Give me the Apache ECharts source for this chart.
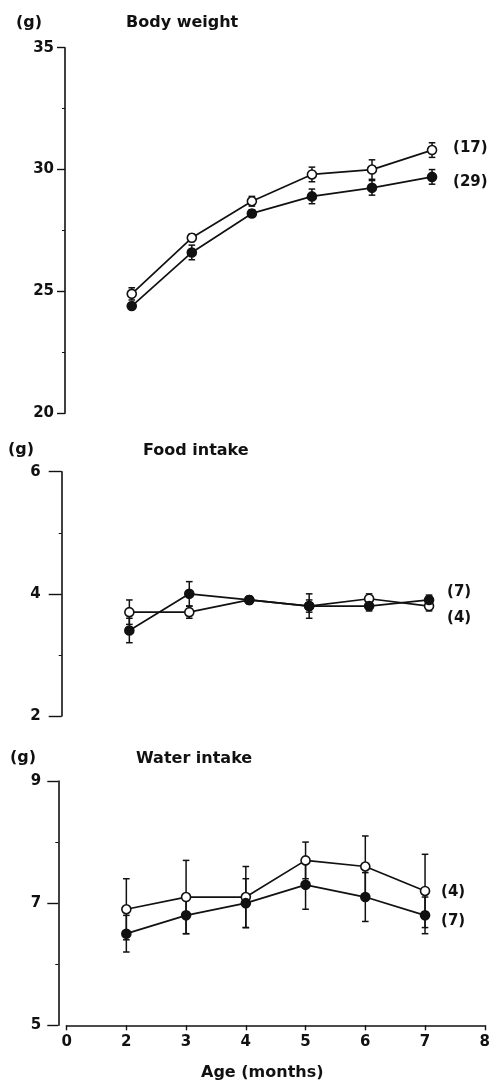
<!DOCTYPE html>
<html>
<head>
<meta charset="utf-8">
<script src="https://cdn.jsdelivr.net/npm/echarts@6/dist/echarts.min.js"></script>
<style>
  html, body { margin: 0; padding: 0; background: #fff; }
  #chart { width: 493px; height: 1083px; }
</style>
</head>
<body>
<div id="chart"></div>
<script>
// Age in months for every measurement
const months = [2, 3, 4, 5, 6, 7];
// Tick labels along the age axis (the first position is shown as 0, axis break)
const ageTickLabels = ['0', '2', '3', '4', '5', '6', '7', '8'];

// Body weight (g), mean and SEM
const weightOpen = [24.9, 27.2, 28.7, 29.8, 30.0, 30.8];
const weightOpenSem = [0.25, 0.15, 0.2, 0.3, 0.4, 0.3];
const weightFilled = [24.4, 26.6, 28.2, 28.9, 29.25, 29.7];
const weightFilledSem = [0.1, 0.3, 0.15, 0.3, 0.3, 0.3];

// Food intake (g)
const foodOpen = [3.7, 3.7, 3.9, 3.8, 3.92, 3.8];
const foodOpenSem = [0.2, 0.1, 0.05, 0.1, 0.08, 0.08];
const foodFilled = [3.4, 4.0, 3.9, 3.8, 3.8, 3.9];
const foodFilledSem = [0.2, 0.2, 0.06, 0.2, 0.08, 0.08];

// Water intake (g)
const waterOpen = [6.9, 7.1, 7.1, 7.7, 7.6, 7.2];
const waterOpenSem = [0.5, 0.6, 0.5, 0.3, 0.5, 0.6];
const waterFilled = [6.5, 6.8, 7.0, 7.3, 7.1, 6.8];
const waterFilledSem = [0.3, 0.3, 0.4, 0.4, 0.4, 0.3];

// Group sizes shown at the line ends
const weightN = ['(17)', '(29)'];
const foodN = ['(4)', '(7)'];
const waterN = ['(4)', '(7)'];

const FONT = 'DejaVu Sans';
const INK = '#111';

const chart = echarts.init(document.getElementById('chart'), null, { renderer: 'canvas' });

function pairs(vals) {
  return months.map((m, i) => [m, vals[i]]);
}
function errData(vals, sem) {
  return months.map((m, i) => [m, vals[i], sem[i]]);
}

function errorBars(idx, vals, sem) {
  return {
    type: 'custom',
    xAxisIndex: idx,
    yAxisIndex: idx,
    z: 2,
    silent: true,
    data: errData(vals, sem),
    renderItem: function (params, api) {
      const x = api.value(0), v = api.value(1), e = api.value(2);
      const hi = api.coord([x, v + e]);
      const lo = api.coord([x, v - e]);
      const cap = 3.3;
      const style = { stroke: INK, lineWidth: 1.5 };
      return {
        type: 'group',
        children: [
          { type: 'line', shape: { x1: hi[0], y1: hi[1], x2: lo[0], y2: lo[1] }, style: style },
          { type: 'line', shape: { x1: hi[0] - cap, y1: hi[1], x2: hi[0] + cap, y2: hi[1] }, style: style },
          { type: 'line', shape: { x1: lo[0] - cap, y1: lo[1], x2: lo[0] + cap, y2: lo[1] }, style: style }
        ]
      };
    }
  };
}

function lineSeries(idx, vals, filled, label, offset) {
  return {
    type: 'line',
    xAxisIndex: idx,
    yAxisIndex: idx,
    z: filled ? 4 : 3,
    data: pairs(vals),
    symbol: 'circle',
    symbolSize: 9,
    showAllSymbol: true,
    lineStyle: { color: INK, width: 1.7 },
    itemStyle: {
      color: filled ? INK : '#fff',
      borderColor: INK,
      borderWidth: 1.6
    },
    endLabel: {
      show: true,
      formatter: label,
      offset: offset,
      distance: 5,
      fontFamily: FONT,
      fontWeight: 'bold',
      fontSize: 15,
      color: INK
    },
    emphasis: { disabled: true }
  };
}

const grids = [
  { left: 71.7, top: 47.7, width: 420.4, height: 365.6 },
  { left: 69.4, top: 471.7, width: 419.6, height: 244.3 },
  { left: 66.6, top: 781, width: 420.4, height: 244.3 }
];

function yAxis(idx, min, max, interval, offset, tickLen, margin) {
  return {
    type: 'value',
    gridIndex: idx,
    min: min,
    max: max,
    interval: interval,
    offset: offset,
    axisLine: { show: true, lineStyle: { color: INK, width: 1.6 } },
    axisTick: { show: true, length: tickLen, lineStyle: { color: INK, width: 1.4 } },
    minorTick: { show: true, splitNumber: 2, length: 3, lineStyle: { color: INK, width: 1 } },
    splitLine: { show: false },
    axisLabel: {
      margin: margin,
      fontFamily: FONT,
      fontWeight: 'bold',
      fontSize: 15,
      color: INK
    }
  };
}

function xAxis(idx, visible) {
  return {
    type: 'value',
    gridIndex: idx,
    min: 1,
    max: 8,
    interval: 1,
    show: visible,
    axisLine: { show: true, onZero: false, lineStyle: { color: INK, width: 1.6 } },
    axisTick: { show: true, length: 5, lineStyle: { color: INK, width: 1.4 } },
    splitLine: { show: false },
    axisLabel: {
      margin: 9,
      fontFamily: FONT,
      fontWeight: 'bold',
      fontSize: 15,
      color: INK,
      formatter: function (v) { return ageTickLabels[Math.round(v) - 1]; }
    }
  };
}

function text(x, y, str) {
  return {
    type: 'text',
    left: x,
    top: y,
    style: { text: str, fontFamily: FONT, fontWeight: 'bold', fontSize: 16, fill: INK }
  };
}

const option = {
  animation: false,
  backgroundColor: '#fff',
  grid: grids,
  xAxis: [xAxis(0, false), xAxis(1, false), xAxis(2, true)],
  yAxis: [
    yAxis(0, 20, 35, 5, 6.7, 8, 11),
    yAxis(1, 2, 6, 2, 7.7, 13, 21),
    yAxis(2, 5, 9, 2, 8.3, 11, 17)
  ],
  series: [
    errorBars(0, weightOpen, weightOpenSem),
    errorBars(0, weightFilled, weightFilledSem),
    lineSeries(0, weightOpen, false, weightN[0], [16, -2]),
    lineSeries(0, weightFilled, true, weightN[1], [16, 5]),

    errorBars(1, foodOpen, foodOpenSem),
    errorBars(1, foodFilled, foodFilledSem),
    lineSeries(1, foodOpen, false, foodN[0], [13, 12.5]),
    lineSeries(1, foodFilled, true, foodN[1], [13, -8]),

    errorBars(2, waterOpen, waterOpenSem),
    errorBars(2, waterFilled, waterFilledSem),
    lineSeries(2, waterOpen, false, waterN[0], [11, 1]),
    lineSeries(2, waterFilled, true, waterN[1], [11, 6])
  ],
  graphic: [
    text(16, 15, '(g)'),
    text(126, 15, 'Body weight'),
    text(8, 442, '(g)'),
    text(143, 443, 'Food intake'),
    text(10, 750, '(g)'),
    text(136, 751, 'Water intake'),
    text(201, 1065, 'Age (months)')
  ]
};

chart.setOption(option);
</script>
</body>
</html>
